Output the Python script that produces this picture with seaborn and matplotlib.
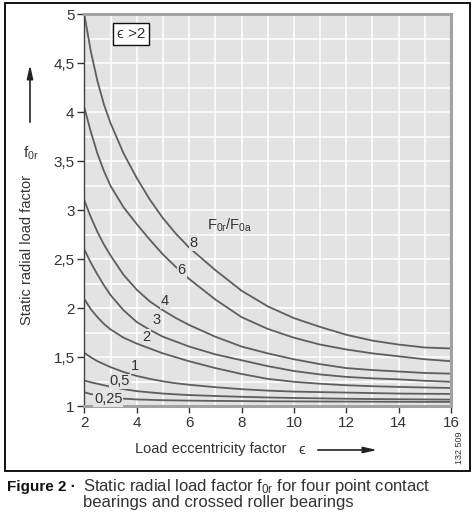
import pandas as pd
import matplotlib.pyplot as plt
import seaborn as sns
from matplotlib.patches import Rectangle
from matplotlib.ticker import MultipleLocator, FuncFormatter

# Load eccentricity factor (x) and read-off f0r values per F0r/F0a curve
eps = [2, 2.25, 2.5, 2.75, 3, 3.5, 4, 4.5, 5, 5.5, 6, 7, 8, 9, 10, 11, 12, 13, 14, 15, 16]

ratio_names = ["8", "6", "4", "3", "2", "1", "0,5", "0,25"]

f0r_8 = [5.00, 4.62, 4.32, 4.08, 3.89, 3.58, 3.33, 3.11, 2.92, 2.76, 2.62, 2.39, 2.18, 2.02, 1.90, 1.81, 1.73, 1.67, 1.63, 1.60, 1.59]
f0r_6 = [4.05, 3.80, 3.58, 3.40, 3.25, 3.03, 2.86, 2.70, 2.55, 2.42, 2.30, 2.09, 1.91, 1.79, 1.70, 1.63, 1.58, 1.54, 1.51, 1.48, 1.46]
f0r_4 = [3.10, 2.93, 2.78, 2.65, 2.54, 2.34, 2.19, 2.07, 1.98, 1.90, 1.83, 1.71, 1.61, 1.54, 1.48, 1.43, 1.39, 1.37, 1.355, 1.34, 1.333]
f0r_3 = [2.60, 2.465, 2.345, 2.235, 2.135, 1.98, 1.86, 1.78, 1.71, 1.66, 1.61, 1.53, 1.47, 1.41, 1.36, 1.325, 1.30, 1.285, 1.275, 1.26, 1.25]
f0r_2 = [2.095, 1.99, 1.91, 1.84, 1.785, 1.70, 1.64, 1.59, 1.54, 1.50, 1.46, 1.39, 1.33, 1.28, 1.25, 1.23, 1.215, 1.205, 1.198, 1.192, 1.187]
f0r_1 = [1.545, 1.50, 1.46, 1.43, 1.40, 1.35, 1.31, 1.28, 1.255, 1.235, 1.22, 1.195, 1.175, 1.16, 1.15, 1.145, 1.14, 1.135, 1.13, 1.128, 1.126]
f0r_05 = [1.262, 1.245, 1.23, 1.215, 1.20, 1.175, 1.155, 1.142, 1.13, 1.122, 1.115, 1.105, 1.097, 1.09, 1.085, 1.081, 1.077, 1.074, 1.072, 1.07, 1.068]
f0r_025 = [1.143, 1.125, 1.11, 1.098, 1.09, 1.078, 1.07, 1.066, 1.062, 1.06, 1.058, 1.055, 1.053, 1.051, 1.05, 1.049, 1.048, 1.047, 1.046, 1.045, 1.045]

curves = [f0r_8, f0r_6, f0r_4, f0r_3, f0r_2, f0r_1, f0r_05, f0r_025]

rows = []
for name, vals in zip(ratio_names, curves):
    for e, v in zip(eps, vals):
        rows.append({"eps": e, "f0r": v, "ratio": name})
df = pd.DataFrame(rows)

sns.set_style("darkgrid", {"axes.facecolor": "#e3e3e3", "grid.color": "white"})
plt.rcParams["font.family"] = ["Liberation Sans", "DejaVu Sans"]
plt.rcParams["mathtext.fontset"] = "custom"
plt.rcParams["mathtext.rm"] = "Liberation Sans"

W, H = 472, 514
fig = plt.figure(figsize=(W / 100, H / 100), dpi=100)
ax = fig.add_axes([84.3 / W, 1 - 406.3 / H, (451.1 - 84.3) / W, (406.3 - 14.3) / H])

text_col = "#333333"
line_col = "#5e5e5e"

sns.lineplot(data=df, x="eps", y="f0r", units="ratio", estimator=None,
             color=line_col, lw=1.3, ax=ax)

ax.set_xlim(2, 16)
ax.set_ylim(1, 5)
ax.set_xlabel("")
ax.set_ylabel("")

ax.xaxis.set_major_locator(MultipleLocator(2))
ax.xaxis.set_minor_locator(MultipleLocator(1))
ax.yaxis.set_major_locator(MultipleLocator(0.5))
ax.yaxis.set_minor_locator(MultipleLocator(0.25))
comma = FuncFormatter(lambda v, p: f"{v:g}".replace(".", ","))
ax.xaxis.set_major_formatter(comma)
ax.yaxis.set_major_formatter(comma)
ax.grid(which="both", color="white", lw=1.1)
ax.set_axisbelow(True)

ax.tick_params(which="major", direction="out", length=5, width=1, color=text_col,
               labelsize=11, labelcolor=text_col, pad=2)
ax.tick_params(which="minor", length=0)
ax.tick_params(axis="y", left=True)
ax.tick_params(axis="x", bottom=True)

for side in ["top", "right", "bottom"]:
    ax.spines[side].set_visible(True)
    ax.spines[side].set_color("#a2a2a2")
    ax.spines[side].set_linewidth(2.2)
ax.spines["left"].set_visible(True)
ax.spines["left"].set_color("#444444")
ax.spines["left"].set_linewidth(1.0)

# curve labels
label_pos = [(6.16, 2.665), (5.72, 2.386), (5.08, 2.07), (4.76, 1.884),
             (4.38, 1.71), (3.93, 1.41), (3.36, 1.255), (2.92, 1.075)]
for name, (lx, ly) in zip(ratio_names, label_pos):
    ax.text(lx, ly, name, fontsize=10.5, color=text_col, ha="center", va="center",
            bbox=dict(boxstyle="square,pad=0.05", fc="#e3e3e3", ec="none"))

ax.text(6.68, 2.85, r"$\mathregular{F_{0r}/F_{0a}}$", fontsize=10.5, color=text_col,
        ha="left", va="center")
ax.text(3.78, 4.80, "ϵ >2", fontsize=11, color=text_col, ha="center", va="center",
        bbox=dict(boxstyle="square,pad=0.25", fc="white", ec="#111111", lw=1))

# outer frame
fig.patches.append(Rectangle((5 / W, 1 - 471 / H), 465 / W, 468 / H, transform=fig.transFigure,
                             fill=False, ec="black", lw=1.3))

# axis titles and arrows
fig.text(27 / W, 1 - 250 / H, "Static radial load factor", rotation=90, ha="center",
         va="center", fontsize=10.5, color=text_col)
fig.text(31 / W, 1 - 153 / H, r"$\mathregular{f_{0r}}$", ha="center", va="center",
         fontsize=11, color=text_col)
ax.annotate("", xy=(30 / W, 1 - 62 / H), xytext=(30 / W, 1 - 125 / H),
            xycoords="figure fraction", textcoords="figure fraction",
            arrowprops=dict(arrowstyle="-|>,head_length=0.8,head_width=0.18", color="#222222", lw=1.2))
fig.text(135 / W, 1 - 449 / H, "Load eccentricity factor", ha="left", va="center",
         fontsize=10.5, color=text_col)
fig.text(302 / W, 1 - 450 / H, "ϵ", ha="center", va="center", fontsize=10.5, color=text_col)
ax.annotate("", xy=(380 / W, 1 - 450 / H), xytext=(315 / W, 1 - 450 / H),
            xycoords="figure fraction", textcoords="figure fraction",
            arrowprops=dict(arrowstyle="-|>,head_length=0.8,head_width=0.18", color="#222222", lw=1.2))
fig.text(460 / W, 1 - 448 / H, "132 509", rotation=90, ha="center", va="center",
         fontsize=6.5, color=text_col)

# caption
fig.text(7 / W, 1 - 487 / H, "Figure 2 ·", ha="left", va="center", fontsize=11,
         color="#111111", weight="bold")
fig.text(83 / W, 1 - 487 / H, r"Static radial load factor $\mathregular{f_{0r}}$ for four point contact",
         ha="left", va="center", fontsize=12, color=text_col)
fig.text(83 / W, 1 - 503 / H, "bearings and crossed roller bearings", ha="left", va="center",
         fontsize=12, color=text_col)

fig.savefig("out.png", dpi=100)
